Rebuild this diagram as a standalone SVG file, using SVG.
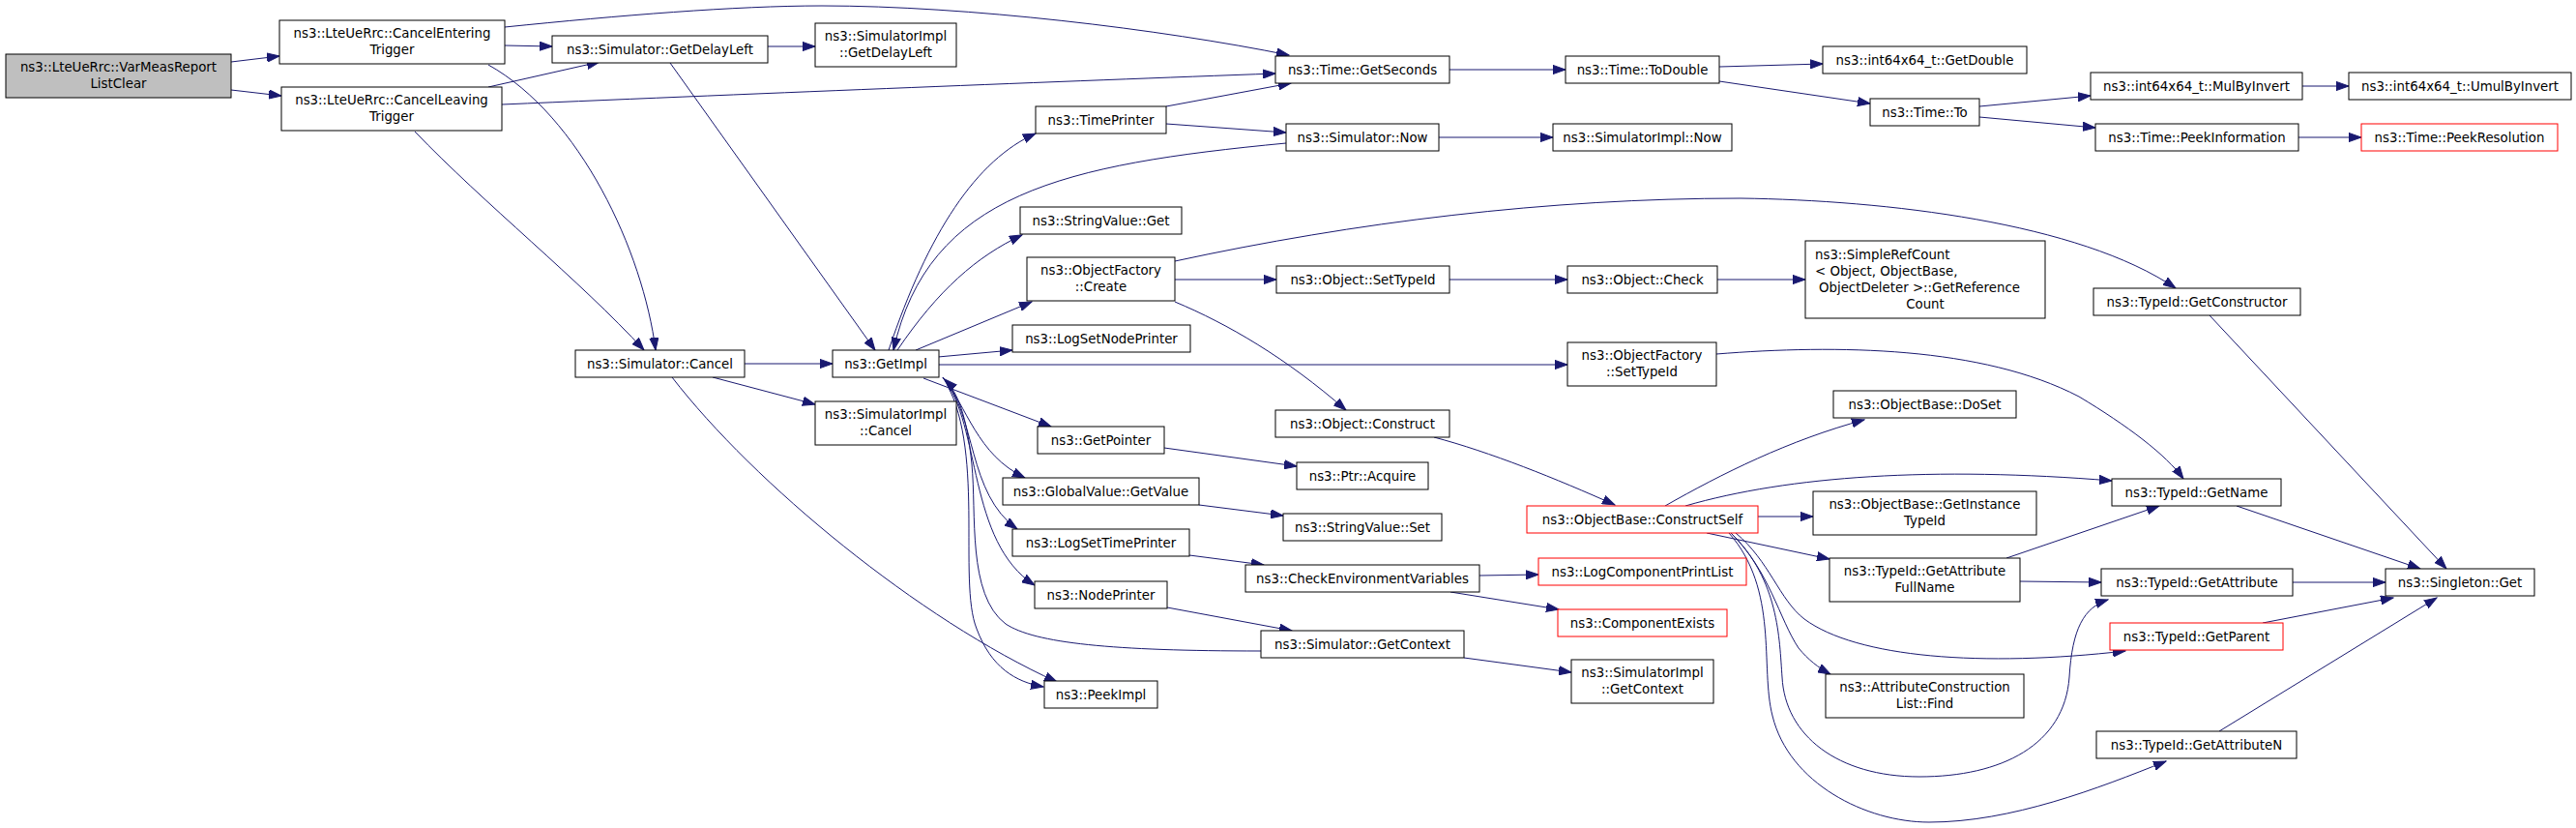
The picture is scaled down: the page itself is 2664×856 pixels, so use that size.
<svg xmlns="http://www.w3.org/2000/svg" width="2664" height="856" viewBox="0 0 2664 856">
<style>
.node rect{fill:#ffffff;stroke:#000000;stroke-width:1}
.node.root rect{fill:#bfbfbf}
.node.red rect{stroke:#ff0000}
text{font-family:"DejaVu Sans","Liberation Sans",sans-serif;font-size:13.33px;fill:#000000;text-anchor:middle}
text.l{text-anchor:start}
#edges path{fill:none;stroke:#191970;stroke-width:1;marker-end:url(#arr)}
</style>
<defs>
<marker id="arr" markerUnits="userSpaceOnUse" viewBox="0 0 14 10" markerWidth="14" markerHeight="10" refX="13" refY="5" orient="auto">
<path d="M0,0.4 L13,5 L0,9.6 z" fill="#191970" stroke="#191970" stroke-width="1"/>
</marker>
</defs>
<rect x="0" y="0" width="2664" height="856" fill="#ffffff"/>
<g id="edges">
<path d="M239,64 L289,58"/>
<path d="M239,93 L291,99"/>
<path d="M522,28 C640,16 760,6 850,6 C1000,6 1200,30 1333,57"/>
<path d="M522,47 L571,48"/>
<path d="M505,67 C600,120 665,260 678,362"/>
<path d="M505,90 L620,64"/>
<path d="M519,108 C800,96 1100,84 1319,76"/>
<path d="M429,136 C500,210 600,290 666,362"/>
<path d="M794,48 L843,48"/>
<path d="M693,65 L905,362"/>
<path d="M770,376 L861,376"/>
<path d="M737,390 L843,418"/>
<path d="M695,390 C780,500 950,640 1093,705"/>
<path d="M919,362 C960,240 1010,165 1071,138"/>
<path d="M1330,148 C1100,170 960,200 924,362"/>
<path d="M928,362 C970,300 1010,265 1057,243"/>
<path d="M947,362 L1067,312"/>
<path d="M970,369 L1047,362"/>
<path d="M970,377 L1621,377"/>
<path d="M955,391 L1087,441"/>
<path d="M975,390 C1000,420 1010,470 1060,494"/>
<path d="M975,390 C1010,430 1000,510 1052,547"/>
<path d="M975,390 C1015,440 1000,560 1070,605"/>
<path d="M975,390 C1020,460 990,600 1010,650 C1025,690 1050,705 1079,710"/>
<path d="M1304,673 C1150,673 1070,665 1040,645 C1000,615 1010,530 1005,480 C1000,430 990,405 977,392"/>
<path d="M1206,110 L1335,86"/>
<path d="M1206,128 L1330,137"/>
<path d="M1488,142 L1606,142"/>
<path d="M1499,72 L1619,72"/>
<path d="M1778,69 L1885,66"/>
<path d="M1778,84 L1934,107"/>
<path d="M2047,110 L2162,99"/>
<path d="M2047,121 L2167,132"/>
<path d="M2381,89 L2429,89"/>
<path d="M2377,142 L2442,142"/>
<path d="M1204,463 L1341,482"/>
<path d="M1240,522 L1327,533"/>
<path d="M1230,574 L1307,584"/>
<path d="M1207,628 L1336,652"/>
<path d="M1530,595 L1591,594"/>
<path d="M1500,612 L1612,630"/>
<path d="M1514,680 L1625,695"/>
<path d="M1215,289 L1320,289"/>
<path d="M1215,270 C1400,230 1600,205 1800,205 C1950,207 2150,230 2250,298"/>
<path d="M1215,312 C1270,335 1330,370 1392,424"/>
<path d="M1499,289 L1621,289"/>
<path d="M1776,289 L1867,289"/>
<path d="M1775,366 C1900,356 2050,358 2150,410 C2200,440 2240,470 2258,495"/>
<path d="M1483,452 C1540,467 1610,495 1670,522"/>
<path d="M1722,523 C1780,490 1850,455 1928,434"/>
<path d="M1743,523 C1850,492 2000,482 2184,497"/>
<path d="M1818,534 L1875,534"/>
<path d="M1765,551 L1892,578"/>
<path d="M2075,577 L2233,523"/>
<path d="M2089,601 L2173,602"/>
<path d="M1795,551 C1830,580 1840,620 1866,640 C1920,680 2050,690 2198,673"/>
<path d="M1790,551 C1830,590 1840,640 1860,670 C1870,682 1880,690 1893,697"/>
<path d="M1790,551 C1840,600 1840,660 1843,700 C1846,760 1900,803 1985,803 C2070,803 2135,770 2140,700 C2143,650 2155,628 2180,620"/>
<path d="M1788,551 C1840,610 1820,690 1833,740 C1850,810 1930,850 1995,850 C2080,850 2170,815 2240,787"/>
<path d="M2295,756 L2520,618"/>
<path d="M2313,523 L2503,588"/>
<path d="M2285,326 L2530,588"/>
<path d="M2371,602 L2467,602"/>
<path d="M2340,644 L2475,618"/>
</g>
<g id="n1" class="node root"><rect x="6" y="56" width="233" height="45"/><text x="122.5" y="74.2">ns3::LteUeRrc::VarMeasReport</text><text x="122.5" y="90.9">ListClear</text></g>
<g id="n2" class="node"><rect x="289" y="21" width="233" height="45"/><text x="405.5" y="39.2">ns3::LteUeRrc::CancelEntering</text><text x="405.5" y="55.9">Trigger</text></g>
<g id="n3" class="node"><rect x="291" y="90" width="228" height="45"/><text x="405" y="108.2">ns3::LteUeRrc::CancelLeaving</text><text x="405" y="124.9">Trigger</text></g>
<g id="n4" class="node"><rect x="571" y="37" width="223" height="28"/><text x="682.5" y="55.5">ns3::Simulator::GetDelayLeft</text></g>
<g id="n5" class="node"><rect x="843" y="24" width="146" height="45"/><text x="916" y="42.2">ns3::SimulatorImpl</text><text x="916" y="58.9">::GetDelayLeft</text></g>
<g id="n6" class="node"><rect x="595" y="362" width="175" height="28"/><text x="682.5" y="380.5">ns3::Simulator::Cancel</text></g>
<g id="n7" class="node"><rect x="861" y="362" width="110" height="28"/><text x="916" y="380.5">ns3::GetImpl</text></g>
<g id="n8" class="node"><rect x="843" y="415" width="146" height="45"/><text x="916" y="433.2">ns3::SimulatorImpl</text><text x="916" y="449.9">::Cancel</text></g>
<g id="n9" class="node"><rect x="1071" y="110" width="135" height="28"/><text x="1138.5" y="128.5">ns3::TimePrinter</text></g>
<g id="n10" class="node"><rect x="1055" y="214" width="167" height="28"/><text x="1138.5" y="232.5">ns3::StringValue::Get</text></g>
<g id="n11" class="node"><rect x="1062" y="266" width="153" height="45"/><text x="1138.5" y="284.2">ns3::ObjectFactory</text><text x="1138.5" y="300.9">::Create</text></g>
<g id="n12" class="node"><rect x="1047" y="336" width="184" height="28"/><text x="1139" y="354.5">ns3::LogSetNodePrinter</text></g>
<g id="n13" class="node"><rect x="1073" y="441" width="131" height="28"/><text x="1138.5" y="459.5">ns3::GetPointer</text></g>
<g id="n14" class="node"><rect x="1037" y="494" width="203" height="28"/><text x="1138.5" y="512.5">ns3::GlobalValue::GetValue</text></g>
<g id="n15" class="node"><rect x="1047" y="547" width="183" height="28"/><text x="1138.5" y="565.5">ns3::LogSetTimePrinter</text></g>
<g id="n16" class="node"><rect x="1070" y="601" width="137" height="28"/><text x="1138.5" y="619.5">ns3::NodePrinter</text></g>
<g id="n17" class="node"><rect x="1080" y="704" width="117" height="28"/><text x="1138.5" y="722.5">ns3::PeekImpl</text></g>
<g id="n18" class="node"><rect x="1319" y="58" width="180" height="28"/><text x="1409" y="76.5">ns3::Time::GetSeconds</text></g>
<g id="n19" class="node"><rect x="1330" y="128" width="158" height="28"/><text x="1409" y="146.5">ns3::Simulator::Now</text></g>
<g id="n20" class="node"><rect x="1320" y="275" width="179" height="28"/><text x="1409.5" y="293.5">ns3::Object::SetTypeId</text></g>
<g id="n21" class="node"><rect x="1319" y="424" width="180" height="28"/><text x="1409" y="442.5">ns3::Object::Construct</text></g>
<g id="n22" class="node"><rect x="1341" y="478" width="136" height="28"/><text x="1409" y="496.5">ns3::Ptr::Acquire</text></g>
<g id="n23" class="node"><rect x="1327" y="531" width="164" height="28"/><text x="1409" y="549.5">ns3::StringValue::Set</text></g>
<g id="n24" class="node"><rect x="1288" y="584" width="242" height="28"/><text x="1409" y="602.5">ns3::CheckEnvironmentVariables</text></g>
<g id="n25" class="node"><rect x="1304" y="652" width="210" height="28"/><text x="1409" y="670.5">ns3::Simulator::GetContext</text></g>
<g id="n26" class="node"><rect x="1619" y="58" width="159" height="28"/><text x="1698.5" y="76.5">ns3::Time::ToDouble</text></g>
<g id="n27" class="node"><rect x="1606" y="128" width="185" height="28"/><text x="1698.5" y="146.5">ns3::SimulatorImpl::Now</text></g>
<g id="n28" class="node"><rect x="1621" y="275" width="155" height="28"/><text x="1698.5" y="293.5">ns3::Object::Check</text></g>
<g id="n29" class="node"><rect x="1621" y="354" width="154" height="45"/><text x="1698" y="372.2">ns3::ObjectFactory</text><text x="1698" y="388.9">::SetTypeId</text></g>
<g id="n30" class="node red"><rect x="1579" y="523" width="239" height="28"/><text x="1698.5" y="541.5">ns3::ObjectBase::ConstructSelf</text></g>
<g id="n31" class="node red"><rect x="1591" y="577" width="215" height="28"/><text x="1698.5" y="595.5">ns3::LogComponentPrintList</text></g>
<g id="n32" class="node red"><rect x="1611" y="630" width="175" height="28"/><text x="1698.5" y="648.5">ns3::ComponentExists</text></g>
<g id="n33" class="node"><rect x="1625" y="682" width="147" height="45"/><text x="1698.5" y="700.2">ns3::SimulatorImpl</text><text x="1698.5" y="716.9">::GetContext</text></g>
<g id="n34" class="node"><rect x="1885" y="48" width="211" height="28"/><text x="1990.5" y="66.5">ns3::int64x64_t::GetDouble</text></g>
<g id="n35" class="node"><rect x="1934" y="102" width="113" height="28"/><text x="1990.5" y="120.5">ns3::Time::To</text></g>
<g id="n36" class="node"><rect x="1867" y="249" width="248" height="80"/><text class="l" x="1877" y="267.5">ns3::SimpleRefCount</text><text class="l" x="1877" y="284.5">&lt; Object, ObjectBase,</text><text class="l" x="1881" y="301.5">ObjectDeleter &gt;::GetReference</text><text x="1991" y="318.5">Count</text></g>
<g id="n37" class="node"><rect x="1896" y="404" width="189" height="28"/><text x="1990.5" y="422.5">ns3::ObjectBase::DoSet</text></g>
<g id="n38" class="node"><rect x="1875" y="508" width="231" height="45"/><text x="1990.5" y="526.2">ns3::ObjectBase::GetInstance</text><text x="1990.5" y="542.9">TypeId</text></g>
<g id="n39" class="node"><rect x="1892" y="577" width="197" height="45"/><text x="1990.5" y="595.2">ns3::TypeId::GetAttribute</text><text x="1990.5" y="611.9">FullName</text></g>
<g id="n40" class="node"><rect x="1888" y="697" width="205" height="45"/><text x="1990.5" y="715.2">ns3::AttributeConstruction</text><text x="1990.5" y="731.9">List::Find</text></g>
<g id="n41" class="node"><rect x="2162" y="75" width="219" height="28"/><text x="2271.5" y="93.5">ns3::int64x64_t::MulByInvert</text></g>
<g id="n42" class="node"><rect x="2167" y="128" width="210" height="28"/><text x="2272" y="146.5">ns3::Time::PeekInformation</text></g>
<g id="n43" class="node"><rect x="2165" y="298" width="214" height="28"/><text x="2272" y="316.5">ns3::TypeId::GetConstructor</text></g>
<g id="n44" class="node"><rect x="2184" y="495" width="175" height="28"/><text x="2271.5" y="513.5">ns3::TypeId::GetName</text></g>
<g id="n45" class="node"><rect x="2173" y="588" width="198" height="28"/><text x="2272" y="606.5">ns3::TypeId::GetAttribute</text></g>
<g id="n46" class="node red"><rect x="2182" y="644" width="179" height="28"/><text x="2271.5" y="662.5">ns3::TypeId::GetParent</text></g>
<g id="n47" class="node"><rect x="2168" y="756" width="207" height="28"/><text x="2271.5" y="774.5">ns3::TypeId::GetAttributeN</text></g>
<g id="n48" class="node"><rect x="2429" y="75" width="230" height="28"/><text x="2544" y="93.5">ns3::int64x64_t::UmulByInvert</text></g>
<g id="n49" class="node red"><rect x="2442" y="128" width="203" height="28"/><text x="2543.5" y="146.5">ns3::Time::PeekResolution</text></g>
<g id="n50" class="node"><rect x="2467" y="588" width="154" height="28"/><text x="2544" y="606.5">ns3::Singleton::Get</text></g>
</svg>
